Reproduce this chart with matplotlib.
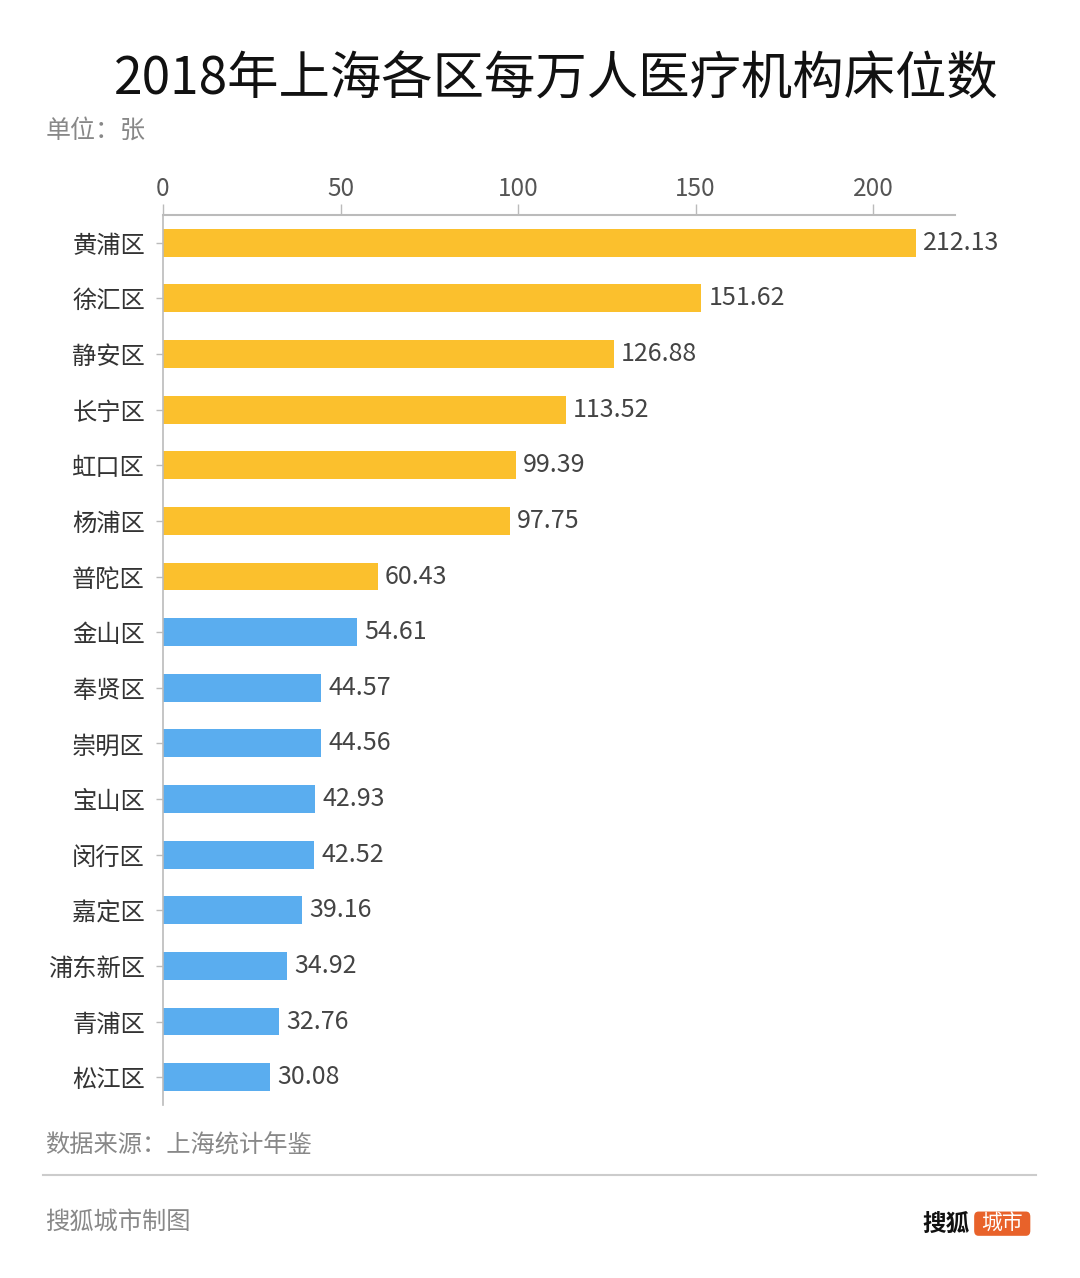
import matplotlib
matplotlib.use("Agg")
import matplotlib.pyplot as plt
from matplotlib.patches import FancyBboxPatch

plt.rcParams['font.family'] = ['Noto Sans CJK SC', 'DejaVu Sans']

# data
districts = ["黄浦区", "徐汇区", "静安区", "长宁区", "虹口区", "杨浦区", "普陀区",
             "金山区", "奉贤区", "崇明区", "宝山区", "闵行区", "嘉定区", "浦东新区",
             "青浦区", "松江区"]
beds = [212.13, 151.62, 126.88, 113.52, 99.39, 97.75, 60.43,
        54.61, 44.57, 44.56, 42.93, 42.52, 39.16, 34.92, 32.76, 30.08]
central = [True] * 7 + [False] * 9
xticks = [0, 50, 100, 150, 200]

yellow = "#FBC02D"
blue = "#5AADEF"

fig = plt.figure(figsize=(10.8, 12.78), dpi=100)
ax = fig.add_axes([0.1509, 0.1354, 0.7333, 0.6964])

colors = [yellow if c else blue for c in central]
ypos = list(range(len(districts)))
ax.barh(ypos, beds, height=0.5, color=colors)

for y, v in zip(ypos, beds):
    ax.text(v + 2, y, f"{v:.2f}", va="center", ha="left", fontsize=18, color="#444444")

ax.set_xlim(0, 223)
ax.set_ylim(15.5, -0.5)
ax.set_yticks(ypos)
ax.set_yticklabels(districts, fontsize=17.5, color="#333333")
ax.set_xticks(xticks)
ax.xaxis.tick_top()
ax.tick_params(axis="x", labelsize=17.5, labelcolor="#555555", color="#bbbbbb",
               length=8, width=1, pad=1)
ax.tick_params(axis="y", color="#bbbbbb", length=5, width=1, pad=8)

for s in ["right", "bottom"]:
    ax.spines[s].set_visible(False)
ax.spines["top"].set_color("#bbbbbb")
ax.spines["left"].set_color("#bbbbbb")
ax.spines["top"].set_linewidth(1.5)
ax.spines["left"].set_linewidth(1.2)

# title and notes
fig.text(0.515, 0.938, "2018年上海各区每万人医疗机构床位数", ha="center", va="center",
         fontsize=37, fontweight="medium", color="#111111")
fig.text(0.042, 0.898, "单位：张", ha="left", va="center", fontsize=18, color="#888888")
fig.text(0.042, 0.104, "数据来源：上海统计年鉴", ha="left", va="center", fontsize=17.5, color="#888888")
fig.add_artist(plt.Line2D([0.040, 0.959], [0.0806, 0.0806], color="#cccccc", lw=1.5))
fig.text(0.042, 0.044, "搜狐城市制图", ha="left", va="center", fontsize=17.5, color="#888888")

# logo
fig.text(0.898, 0.042, "搜狐", ha="right", va="center", fontsize=17, fontweight="bold", color="#111111")
box = FancyBboxPatch((0.902, 0.0330), 0.052, 0.0190, boxstyle="round,pad=0,rounding_size=0.004",
                     transform=fig.transFigure, facecolor="#E8622A", edgecolor="none")
fig.add_artist(box)
fig.text(0.928, 0.0425, "城市", ha="center", va="center", fontsize=15, color="white")

fig.savefig("out.png", dpi=100, facecolor="white")
